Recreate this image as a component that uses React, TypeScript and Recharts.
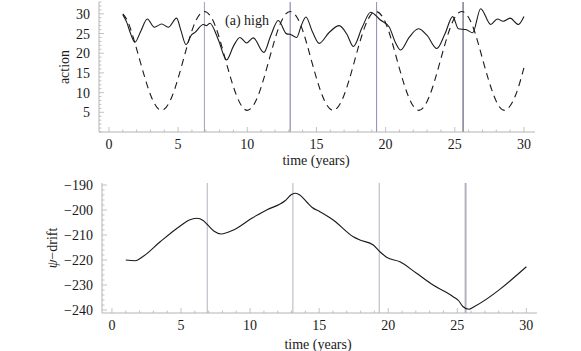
import { Line, LineChart, ReferenceLine, XAxis, YAxis } from 'recharts';

// (t, action) solid curve
const actionSolid: [number, number][] = [
  [1.0, 29.8], [1.28, 27.9], [1.57, 24.9], [1.88, 22.8], [2.3, 25.6], [2.77, 28.7],
  [3.28, 26.6], [3.81, 27.4], [4.29, 26.6], [4.89, 28.9], [5.2, 25.8], [5.57, 22.2],
  [5.98, 24.7], [6.22, 25.3], [6.82, 27.3], [7.05, 27.0], [7.3, 27.6], [7.9, 23.5],
  [8.51, 18.3], [9.0, 21.8], [9.47, 24.0], [9.95, 22.6], [10.43, 23.9], [11.2, 20.2],
  [11.7, 24.5], [12.24, 28.3], [12.85, 24.9], [13.09, 24.8], [13.57, 24.0], [13.9, 27.0],
  [14.24, 29.2], [14.7, 25.5], [15.2, 22.5], [15.9, 25.2], [16.65, 27.0], [17.2, 24.8],
  [17.67, 21.7], [18.3, 26.5], [18.92, 30.4], [19.6, 28.5], [20.27, 26.6], [20.7, 22.8],
  [21.09, 20.8], [21.7, 24.0], [22.37, 26.2], [23.0, 24.5], [23.7, 21.2], [24.3, 25.0],
  [24.85, 29.3], [25.26, 26.2], [25.8, 26.0], [26.3, 25.2], [26.87, 31.3], [27.6, 27.3],
  [28.08, 28.7], [28.5, 28.1], [29.0, 28.9], [29.6, 27.3], [30.0, 29.3],
];

// (t, action) dashed curve
const actionDashed: [number, number][] = [
  [1.0, 30.0], [1.48, 27.0], [2.25, 18.0], [3.03, 9.2], [3.8, 5.5], [4.58, 9.2],
  [5.35, 18.0], [6.13, 27.0], [6.9, 30.6], [7.68, 27.0], [8.45, 18.0], [9.23, 9.2],
  [10.0, 5.5], [10.78, 9.2], [11.55, 18.0], [12.33, 27.0], [13.1, 30.6], [13.88, 27.0],
  [14.65, 18.0], [15.43, 9.2], [16.2, 5.5], [16.98, 9.2], [17.75, 18.0], [18.53, 27.0],
  [19.3, 30.6], [20.08, 27.0], [20.85, 18.0], [21.63, 9.2], [22.4, 5.5], [23.18, 9.2],
  [23.95, 18.0], [24.73, 27.0], [25.5, 30.6], [26.28, 27.0], [27.05, 18.0], [27.83, 9.2],
  [28.6, 5.5], [29.38, 9.2], [30.0, 16.3],
];

// (t, psi-drift)
const psiDrift: [number, number][] = [
  [1.0, -220.0], [1.68, -220.3], [2.17, -218.9], [3.49, -212.7], [4.94, -206.4],
  [5.6, -204.0], [6.14, -203.3], [6.6, -204.2], [6.87, -205.6], [7.4, -208.5],
  [7.9, -209.6], [8.8, -208.0], [10.12, -203.3], [11.2, -200.0], [12.53, -196.3],
  [13.0, -193.8], [13.3, -193.3], [13.6, -194.0], [14.1, -196.8], [14.5, -199.0],
  [15.06, -200.7], [16.02, -204.0], [17.47, -210.7], [17.95, -212.0], [18.92, -214.0],
  [19.4, -216.7], [19.88, -218.9], [20.85, -220.7], [22.05, -225.3], [23.25, -230.0],
  [24.7, -234.7], [25.1, -236.3], [25.42, -238.7], [25.86, -239.7], [26.15, -238.9],
  [30.0, -222.7],
];

const eventTimes = [6.9, 13.1, 19.35, 25.6];
const topEventColors = ['#9c9ec0', '#7476a0', '#8a8cbc', '#3e4060'];

const xTicks = Array.from({ length: 31 }, (_, i) => i);
const xLabels = [0, 5, 10, 15, 20, 25, 30];
const actionTicks = Array.from({ length: 34 }, (_, i) => i);
const actionLabels = [5, 10, 15, 20, 25, 30];
const driftTicks = Array.from({ length: 26 }, (_, i) => -240 + i * 2);
const driftLabels = [-240, -230, -220, -210, -200, -190];

const FRAME = '#b4b4b4';
const FONT = '"Liberation Serif", "DejaVu Serif", serif';
const INK = '#1a1a1a';

const toRows = (pts: [number, number][]) => pts.map(([t, v]) => ({ t, v }));
const fmt = (v: number) => (v < 0 ? `\u2212${-v}` : `${v}`);

// ticks point inward, labels only on majors
function XTick(props: any) {
  const { x, y, payload, dir, labels } = props;
  const v = payload.value as number;
  const major = xLabels.includes(v);
  const len = major ? 5 : 2.5;
  return (
    <g>
      <line x1={x} x2={x} y1={y} y2={y + dir * len} stroke={FRAME} strokeWidth={0.8} />
      {labels && major && (
        <text x={x} y={y + 17} textAnchor="middle" fontSize={14} fontFamily={FONT} fill={INK}>
          {fmt(v)}
        </text>
      )}
    </g>
  );
}

function YTick(props: any) {
  const { x, y, payload, dir, labels, majors } = props;
  const v = payload.value as number;
  const major = majors.includes(v);
  const len = major ? 5 : 2.5;
  return (
    <g>
      <line x1={x} x2={x + dir * len} y1={y} y2={y} stroke={FRAME} strokeWidth={0.8} />
      {labels && major && (
        <text x={x - 9} y={y + 5} textAnchor="end" fontSize={14} fontFamily={FONT} fill={INK}>
          {fmt(v)}
        </text>
      )}
    </g>
  );
}

const overlay = (left: number, top: number, extra: any = {}): any => ({
  position: 'absolute',
  left,
  top,
  transform: 'translate(-50%, -50%)',
  fontFamily: FONT,
  fontSize: 14,
  lineHeight: 1,
  color: INK,
  whiteSpace: 'nowrap',
  ...extra,
});

export default function App() {
  return (
    <div style={{ position: 'absolute', left: 0, top: 0, width: 581, height: 351, background: '#fff' }}>
      <div style={{ position: 'absolute', left: 0, top: 0 }}>
        <LineChart width={581} height={170} margin={{ top: 2, right: 46, left: 0, bottom: 0 }}>
          <XAxis
            xAxisId="b"
            type="number"
            dataKey="t"
            domain={[-0.72, 30.8]}
            ticks={xTicks}
            interval={0}
            height={38}
            tickSize={0}
            tickMargin={0}
            tickLine={false}
            axisLine={{ stroke: FRAME }}
            tick={(p: any) => <XTick {...p} dir={-1} labels />}
          />
          <XAxis
            xAxisId="t"
            orientation="top"
            type="number"
            dataKey="t"
            domain={[-0.72, 30.8]}
            ticks={xTicks}
            interval={0}
            height={0}
            tickSize={0}
            tickMargin={0}
            tickLine={false}
            axisLine={{ stroke: FRAME }}
            tick={(p: any) => <XTick {...p} dir={1} />}
          />
          <YAxis
            yAxisId="l"
            type="number"
            domain={[0, 33]}
            ticks={actionTicks}
            interval={0}
            width={99}
            tickSize={0}
            tickMargin={0}
            tickLine={false}
            axisLine={{ stroke: FRAME }}
            tick={(p: any) => <YTick {...p} dir={1} labels majors={actionLabels} />}
          />
          <YAxis
            yAxisId="r"
            orientation="right"
            type="number"
            domain={[0, 33]}
            ticks={actionTicks}
            interval={0}
            width={0}
            tickSize={0}
            tickMargin={0}
            tickLine={false}
            axisLine={{ stroke: FRAME }}
            tick={(p: any) => <YTick {...p} dir={-1} majors={actionLabels} />}
          />
          {eventTimes.map((t, i) => (
            <ReferenceLine key={t} x={t} xAxisId="b" yAxisId="l" stroke={topEventColors[i]} strokeWidth={1} />
          ))}
          <Line
            xAxisId="b"
            yAxisId="l"
            data={toRows(actionDashed)}
            dataKey="v"
            type="natural"
            stroke={INK}
            strokeWidth={1.1}
            strokeDasharray="7 5"
            dot={false}
            isAnimationActive={false}
          />
          <Line
            xAxisId="b"
            yAxisId="l"
            data={toRows(actionSolid)}
            dataKey="v"
            type="monotone"
            stroke={INK}
            strokeWidth={1.1}
            dot={false}
            isAnimationActive={false}
          />
        </LineChart>
      </div>

      <div style={{ position: 'absolute', left: 0, top: 170 }}>
        <LineChart width={581} height={181} margin={{ top: 13, right: 44, left: 0, bottom: 0 }}>
          <XAxis
            xAxisId="b"
            type="number"
            dataKey="t"
            domain={[-0.72, 30.77]}
            ticks={xTicks}
            interval={0}
            height={38}
            tickSize={0}
            tickMargin={0}
            tickLine={false}
            axisLine={{ stroke: FRAME }}
            tick={(p: any) => <XTick {...p} dir={-1} labels />}
          />
          <XAxis
            xAxisId="t"
            orientation="top"
            type="number"
            dataKey="t"
            domain={[-0.72, 30.77]}
            ticks={xTicks}
            interval={0}
            height={0}
            tickSize={0}
            tickMargin={0}
            tickLine={false}
            axisLine={{ stroke: FRAME }}
            tick={(p: any) => <XTick {...p} dir={1} />}
          />
          <YAxis
            yAxisId="l"
            type="number"
            domain={[-241.2, -189.2]}
            ticks={driftTicks}
            interval={0}
            width={102}
            tickSize={0}
            tickMargin={0}
            tickLine={false}
            axisLine={{ stroke: FRAME }}
            tick={(p: any) => <YTick {...p} dir={1} labels majors={driftLabels} />}
          />
          <YAxis
            yAxisId="r"
            orientation="right"
            type="number"
            domain={[-241.2, -189.2]}
            ticks={driftTicks}
            interval={0}
            width={0}
            tickSize={0}
            tickMargin={0}
            tickLine={false}
            axisLine={{ stroke: FRAME }}
            tick={(p: any) => <YTick {...p} dir={-1} majors={driftLabels} />}
          />
          {eventTimes.map((t, i) => (
            <ReferenceLine
              key={t}
              x={t}
              xAxisId="b"
              yAxisId="l"
              stroke="#b2b2c2"
              strokeWidth={i === eventTimes.length - 1 ? 2 : 1}
            />
          ))}
          <Line
            xAxisId="b"
            yAxisId="l"
            data={toRows(psiDrift)}
            dataKey="v"
            type="monotone"
            stroke={INK}
            strokeWidth={1.1}
            dot={false}
            isAnimationActive={false}
          />
        </LineChart>
      </div>

      <div style={overlay(65, 67, { transform: 'translate(-50%, -50%) rotate(-90deg)' })}>action</div>
      <div style={overlay(53, 248, { transform: 'translate(-50%, -50%) rotate(-90deg)' })}>
        <i>ψ</i>−drift
      </div>
      <div style={overlay(316, 161)}>time (years)</div>
      <div style={overlay(318, 345)}>time (years)</div>
      <div style={overlay(247, 21)}>(a) high</div>
    </div>
  );
}
